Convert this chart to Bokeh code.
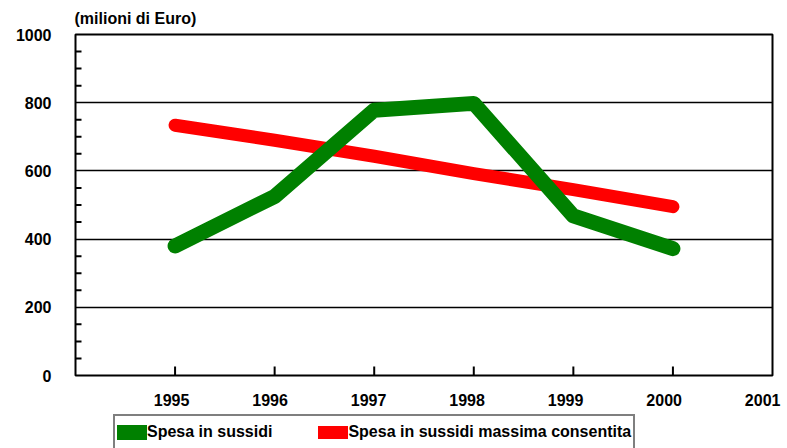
import math
from bokeh.plotting import figure
from bokeh.layouts import column
from bokeh.models import Range1d, LinearAxis, FixedTicker, Legend, LegendItem
from bokeh.embed import file_html
from bokeh.resources import INLINE

# ---- data ----
years = [1995, 1996, 1997, 1998, 1999, 2000]
spesa = [380, 525, 778, 798, 468, 372]
spesa_max = [734, 690, 643, 592, 545, 495]
x_tick_labels = ["1995", "1996", "1997", "1998", "1999", "2000", "2001"]
y_ticks = [0, 200, 400, 600, 800, 1000]
y_minor = [v for v in range(0, 1001, 50) if v not in y_ticks]
unit_label = "(milioni di Euro)"
series_names = ["Spesa in sussidi", "Spesa in sussidi massima consentita"]
x_start, x_end = 1994, 2001

FONT = "Liberation Sans"
GREEN = "#008000"
RED = "#ff0000"

p = figure(width=787, height=414, output_backend="svg", toolbar_location=None,
           x_range=Range1d(x_start, x_end), y_range=Range1d(y_ticks[0], y_ticks[-1]),
           min_border_left=75, min_border_right=15, min_border_top=33,
           min_border_bottom=39, background_fill_color="white",
           border_fill_color="white", title=unit_label)

p.title.align = "left"
p.title.offset = -1
p.title.standoff = 15
p.title.text_font = FONT
p.title.text_font_style = "bold"
p.title.text_font_size = "16px"
p.title.text_color = "black"

p.outline_line_color = "black"
p.outline_line_width = 2
p.outline_line_alpha = 1

p.xaxis.visible = False

# y axis: labels only (minor ticks drawn as markers below)
p.yaxis.ticker = FixedTicker(ticks=y_ticks)
p.yaxis.axis_line_color = None
p.yaxis.major_tick_line_color = None
p.yaxis.minor_tick_line_color = None
p.yaxis.major_tick_in = 0
p.yaxis.major_tick_out = 0
p.yaxis.major_label_standoff = 24
p.yaxis.major_label_text_font = FONT
p.yaxis.major_label_text_font_style = "bold"
p.yaxis.major_label_text_font_size = "16px"
p.yaxis.major_label_text_color = "black"

p.ygrid.ticker = FixedTicker(ticks=y_ticks)
p.ygrid.grid_line_color = "black"
p.ygrid.grid_line_width = 1.6
p.xgrid.visible = False

# x labels (drawn a touch left of the tick marks, as in the original)
label_years = [int(s) for s in x_tick_labels]
p.extra_x_ranges = {"xlabels": Range1d(1994.025, 2001.10)}
xl = LinearAxis(x_range_name="xlabels", ticker=FixedTicker(ticks=label_years),
                major_label_overrides={y: s for y, s in zip(label_years, x_tick_labels)})
xl.axis_line_color = None
xl.major_tick_line_color = None
xl.minor_tick_line_color = None
xl.major_tick_in = 0
xl.major_tick_out = 0
xl.major_label_standoff = 18
xl.major_label_text_font = FONT
xl.major_label_text_font_style = "bold"
xl.major_label_text_font_size = "16px"
xl.major_label_text_color = "black"
p.add_layout(xl, "below")

# inward tick marks (markers clipped to the frame -> only the inner half shows)
p.scatter(years, [y_ticks[0]] * len(years), marker="dash", angle=math.pi / 2,
          size=18, line_color="black", line_width=2)
p.scatter([x_start] * len(y_minor), y_minor, marker="dash",
          size=12, line_color="black", line_width=2)

# lines
p.line(years, spesa_max, line_color=RED, line_width=13,
       line_cap="round", line_join="round")
p.line(years, spesa, line_color=GREEN, line_width=15,
       line_cap="round", line_join="round")

# ---- legend strip (separate small figure) ----
LH = 34
lg = figure(width=787, height=LH, output_backend="svg", toolbar_location=None,
            x_range=Range1d(0, 1), y_range=Range1d(0, 1),
            min_border=0, background_fill_color="white", border_fill_color="white")
lg.axis.visible = False
lg.grid.visible = False
lg.outline_line_color = None
# same series, drawn outside this strip's view; they only supply legend swatches
lr_g = lg.line(years, spesa, line_color=GREEN, line_width=15, line_cap="round", line_join="round")
lr_r = lg.line(years, spesa_max, line_color=RED, line_width=13, line_cap="round", line_join="round")

legend_h = 2 * 2 + 28
legend = Legend(items=[LegendItem(label=series_names[0], renderers=[lr_g]),
                       LegendItem(label=series_names[1], renderers=[lr_r])],
                orientation="horizontal", location=(38, LH - legend_h - 4),
                glyph_width=30, glyph_height=28, label_height=28,
                label_standoff=0, spacing=46,
                padding=2, margin=0,
                border_line_color="black", border_line_width=2,
                background_fill_color="white", background_fill_alpha=1,
                label_text_font=FONT, label_text_font_style="bold",
                label_text_font_size="16px", label_text_color="black")
lg.add_layout(legend, "center")

layout = column(p, lg, spacing=0)
open("out.html", "w").write(file_html(layout, INLINE))
